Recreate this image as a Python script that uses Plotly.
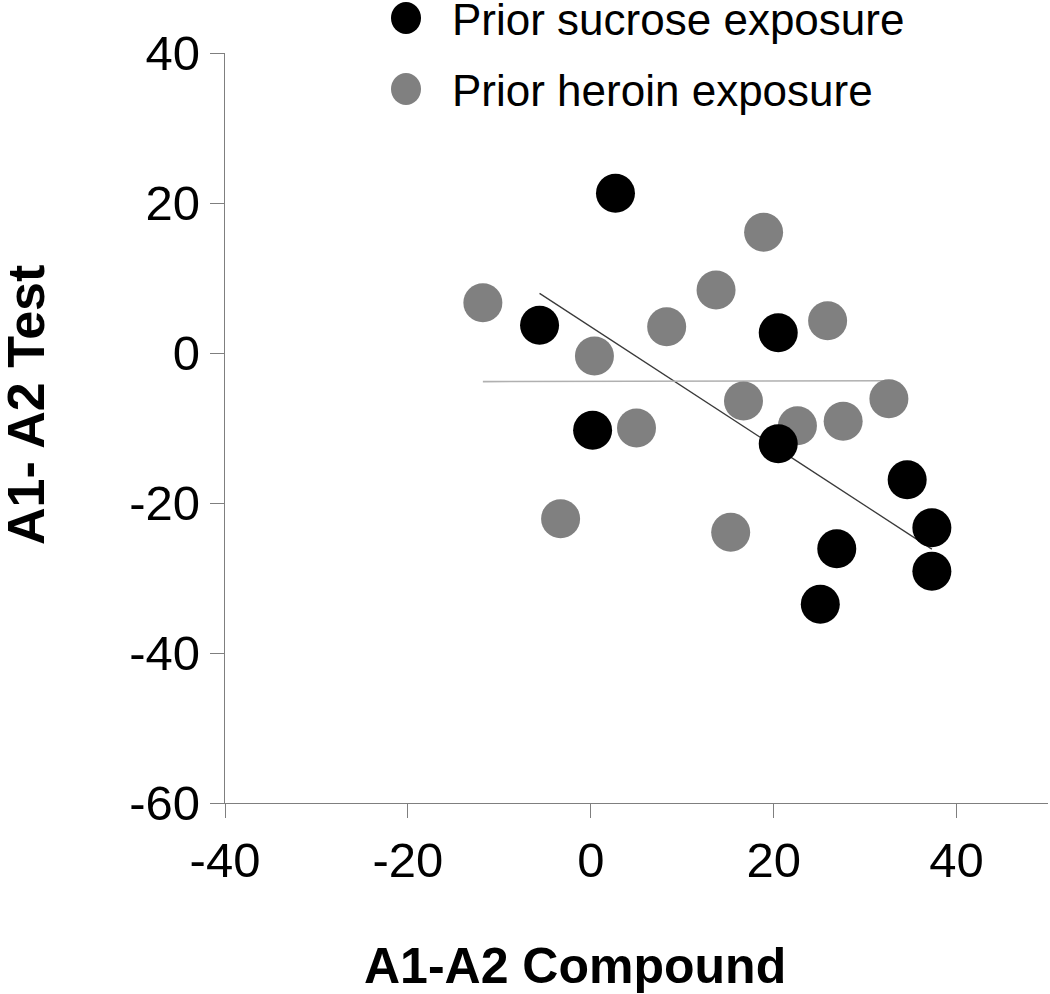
import numpy as np
import plotly.graph_objects as go

# Data
sucrose_x = [2.7, -5.6, 0.2, 20.5, 20.5, 34.6, 37.3, 37.3, 26.9, 25.1]
sucrose_y = [21.3, 3.7, -10.3, 2.7, -12.1, -16.9, -23.3, -29.1, -26.1, -33.5]
heroin_x = [-11.8, 0.4, 8.3, 13.7, 18.9, 25.9, 16.7, 22.6, 27.6, 32.6, 5.0, -3.3, 15.3]
heroin_y = [6.7, -0.4, 3.5, 8.4, 16.1, 4.3, -6.4, -9.7, -9.1, -6.1, -10.0, -22.1, -23.9]
series_names = ["Prior sucrose exposure", "Prior heroin exposure"]
x_ticks = [-40, -20, 0, 20, 40]
y_ticks = [-60, -40, -20, 0, 20, 40]

FONT = "Liberation Sans, Arial, sans-serif"
BLACK = "#000000"
GRAY = "#808080"


def fit_line(xs, ys):
    xs = np.array(xs, dtype=float)
    ys = np.array(ys, dtype=float)
    m, b = np.polyfit(xs, ys, 1)
    lx = np.array([xs.min(), xs.max()])
    return lx, m * lx + b


fig = go.Figure()

lx, ly = fit_line(sucrose_x, sucrose_y)
fig.add_trace(go.Scatter(x=lx, y=ly, mode="lines",
                         line=dict(color="#3a3a3a", width=1.3), showlegend=False, hoverinfo="skip"))
lx, ly = fit_line(heroin_x, heroin_y)
fig.add_trace(go.Scatter(x=lx, y=ly, mode="lines",
                         line=dict(color="#b0b0b0", width=1.6), showlegend=False, hoverinfo="skip"))

fig.add_trace(go.Scatter(x=heroin_x, y=heroin_y, mode="markers", name=series_names[1],
                         marker=dict(color=GRAY, size=39, line=dict(width=0)), showlegend=False))
fig.add_trace(go.Scatter(x=sucrose_x, y=sucrose_y, mode="markers", name=series_names[0],
                         marker=dict(color=BLACK, size=39, line=dict(width=0)), showlegend=False))

axis_common = dict(
    showgrid=False, zeroline=False, showline=True, linecolor="#7f7f7f", linewidth=1.3,
    ticks="outside", ticklen=14, tickcolor="#7f7f7f", tickwidth=1.3,
    tickfont=dict(family=FONT, size=49, color="black"),
)
fig.update_xaxes(range=[-40, 50], tickvals=x_ticks, ticktext=[str(v) for v in x_ticks], **axis_common)
fig.update_yaxes(range=[-60, 40], tickvals=y_ticks, ticktext=[str(v) for v in y_ticks], **axis_common)

W, H = 1050, 994
L, R, T, B = 225, 2, 53, 191
pw, ph = W - L - R, H - T - B


def px(xp):
    return (xp - L) / pw


def py(yp):
    return (H - B - yp) / ph


# Manual legend (large markers like the original)
legend_items = [(series_names[0], BLACK, 18), (series_names[1], GRAY, 89)]
shapes = []
annotations = []
for name, col, yc in legend_items:
    shapes.append(dict(type="circle", xref="paper", yref="paper",
                       xsizemode="pixel", ysizemode="pixel",
                       xanchor=px(406), yanchor=py(yc),
                       x0=-15, x1=15, y0=-16, y1=16,
                       fillcolor=col, line=dict(width=0)))
    annotations.append(dict(text=name, xref="paper", yref="paper", x=px(450), y=py(yc + 2),
                            xanchor="left", yanchor="middle", showarrow=False,
                            font=dict(family=FONT, size=44, color="black")))

annotations.append(dict(text="<b>A1-A2 Compound</b>", xref="paper", yref="paper",
                        x=px(575), y=py(966), xanchor="center", yanchor="middle", showarrow=False,
                        font=dict(family=FONT, size=50, color="black")))
annotations.append(dict(text="<b>A1- A2 Test</b>", xref="paper", yref="paper",
                        x=px(26), y=py(405), xanchor="center", yanchor="middle", showarrow=False,
                        textangle=-90, font=dict(family=FONT, size=52, color="black")))

fig.update_layout(
    width=W, height=H,
    margin=dict(l=L, r=R, t=T, b=B, pad=0),
    paper_bgcolor="white", plot_bgcolor="white",
    shapes=shapes, annotations=annotations,
    showlegend=False,
)

fig.write_html("out.html", config={"displayModeBar": False},
               post_script="document.body.style.margin='0px';")
